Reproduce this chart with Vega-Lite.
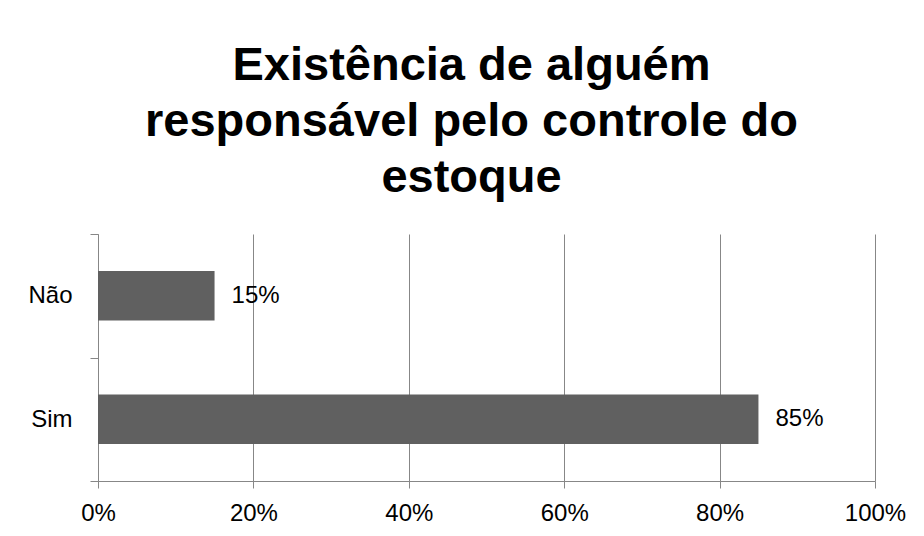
{
  "$schema": "https://vega.github.io/schema/vega-lite/v6.json",
  "width": 777,
  "height": 247,
  "padding": {"left": 0, "top": 42, "right": 47, "bottom": 0},
  "background": "white",
  "title": {
    "text": ["Existência de alguém", "responsável pelo controle do", "estoque"],
    "font": "Liberation Sans",
    "fontSize": 47,
    "fontWeight": "bold",
    "lineHeight": 56,
    "color": "black",
    "anchor": "middle",
    "dx": -15,
    "offset": 20
  },
  "data": {
    "values": [
      {"resposta": "Não", "percentual": 0.15},
      {"resposta": "Sim", "percentual": 0.85}
    ]
  },
  "encoding": {
    "y": {
      "field": "resposta",
      "type": "nominal",
      "sort": ["Não", "Sim"],
      "scale": {"paddingInner": 0, "paddingOuter": 0},
      "axis": {
        "title": null,
        "tickBand": "extent",
        "tickSize": 8,
        "tickColor": "#878787",
        "domainColor": "#878787",
        "labelFont": "Liberation Sans",
        "labelFontSize": 24,
        "labelColor": "black",
        "labelPadding": 18,
        "minExtent": 98,
        "maxExtent": 98,
        "grid": false
      }
    },
    "x": {
      "field": "percentual",
      "type": "quantitative",
      "scale": {"domain": [0, 1], "nice": false},
      "axis": {
        "title": null,
        "values": [0, 0.2, 0.4, 0.6, 0.8, 1],
        "format": ".0%",
        "tickSize": 7,
        "tickColor": "#878787",
        "domainColor": "#878787",
        "gridColor": "#878787",
        "grid": true,
        "labelFont": "Liberation Sans",
        "labelFontSize": 24,
        "labelColor": "black",
        "labelPadding": 13,
        "labelFlush": false
      }
    }
  },
  "layer": [
    {
      "mark": {"type": "bar", "color": "#606060", "height": {"band": 0.4}}
    },
    {
      "mark": {
        "type": "text",
        "align": "left",
        "baseline": "middle",
        "dx": 17,
        "font": "Liberation Sans",
        "fontSize": 24,
        "color": "black"
      },
      "encoding": {
        "text": {"field": "percentual", "type": "quantitative", "format": ".0%"}
      }
    }
  ],
  "config": {
    "view": {"stroke": null}
  }
}
